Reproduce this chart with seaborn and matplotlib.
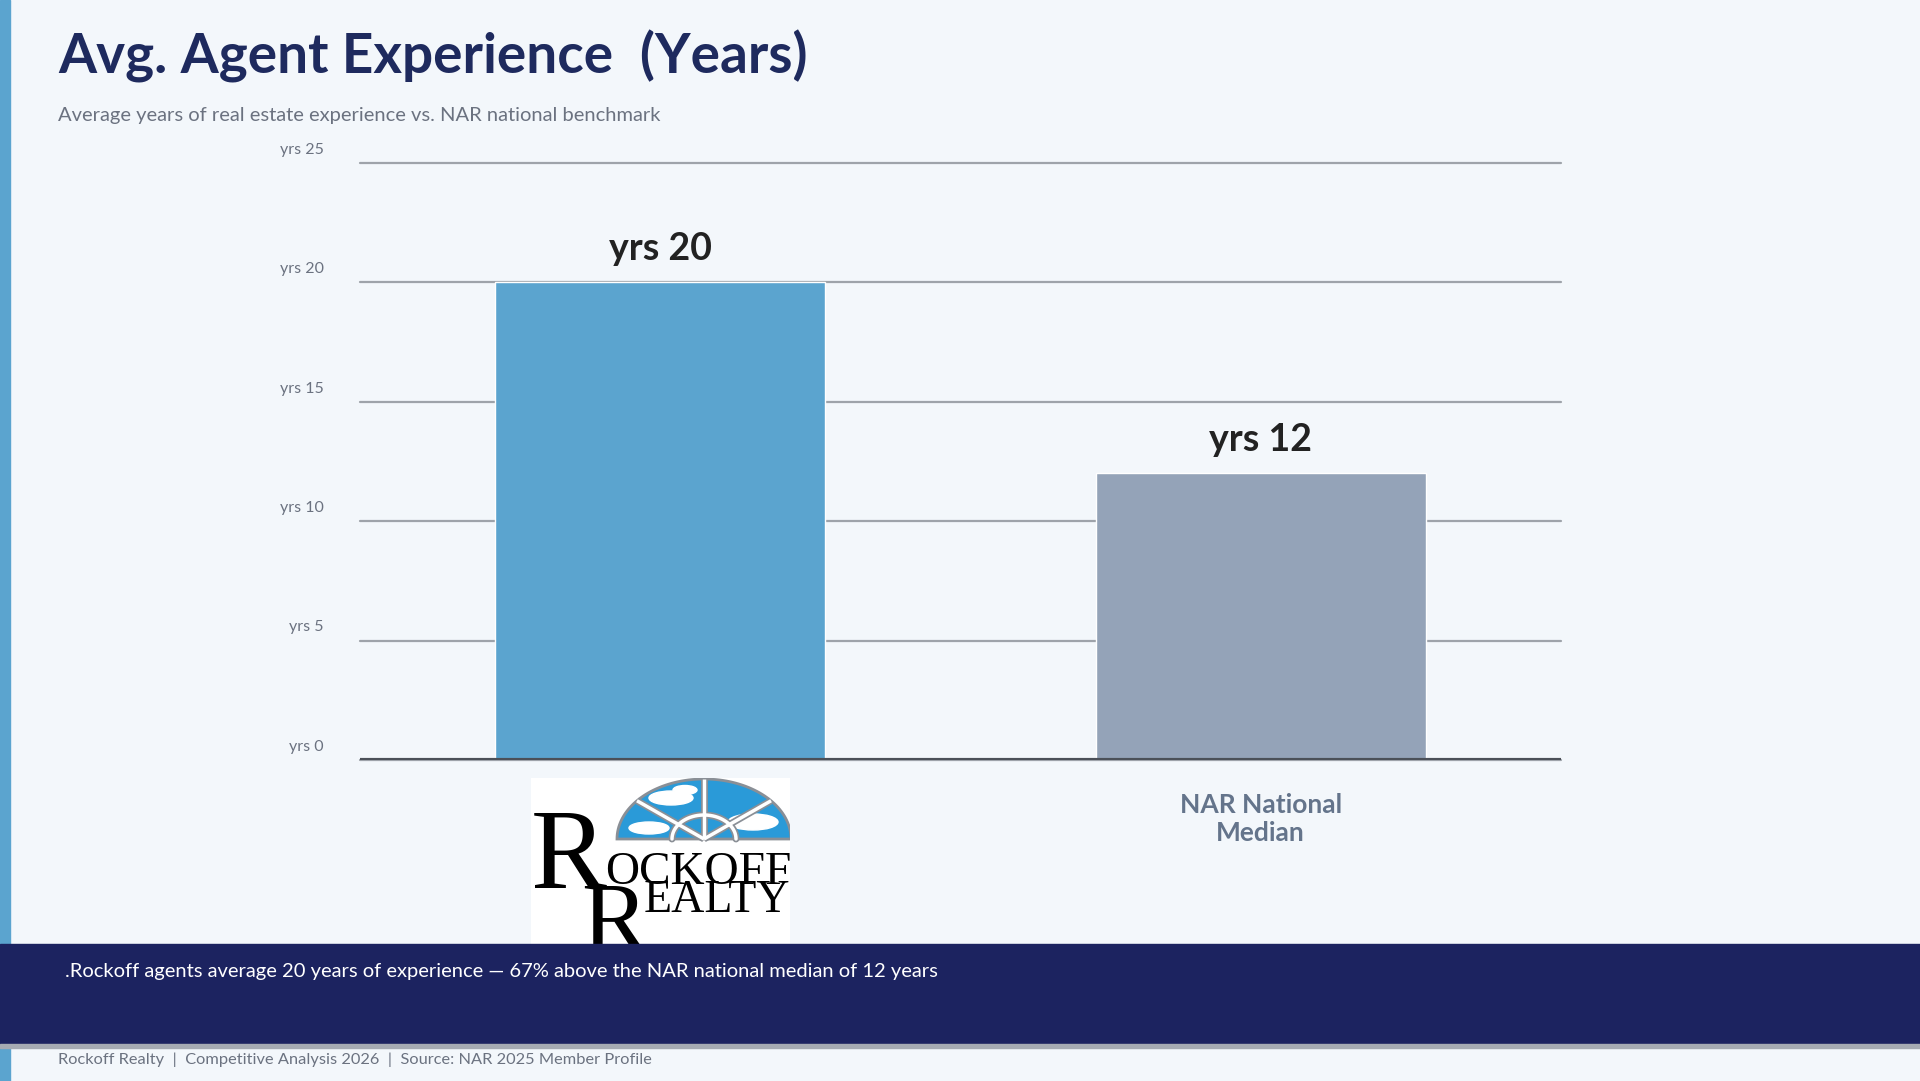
import numpy as np
import pandas as pd
import seaborn as sns
import matplotlib.pyplot as plt
from matplotlib.patches import Rectangle, Polygon, Ellipse

# Data
categories = ["Rockoff Realty", "NAR National Median"]
years = [20, 12]
bar_colors = ["#5ba4cf", "#94a3b8"]
tick_vals = [0, 5, 10, 15, 20, 25]
tick_labels = [f"yrs {v}" for v in tick_vals]
xtick_labels = ["", "NAR National\nMedian"]

title = "Avg. Agent Experience  (Years)"
subtitle = "Average years of real estate experience vs. NAR national benchmark"
takeaway = (".Rockoff agents average 20 years of experience \u2014 67% above the "
            "NAR national median of 12 years")
footer = "Rockoff Realty  |  Competitive Analysis 2026  |  Source: NAR 2025 Member Profile"

df = pd.DataFrame({"source": categories, "years": years})

sns.set_theme(style="white")
plt.rcParams["font.family"] = ["Lato", "DejaVu Sans"]

W, H = 1920, 1081
BG = "#f3f7fb"
NAVY = "#1e2a5e"

fig = plt.figure(figsize=(W / 100, H / 100), dpi=100, facecolor=BG)


def fx(x):
    return x / W


def fy(y):
    return 1 - y / H


# left accent bar
fig.patches.append(Rectangle((0, 0), fx(10), 1, transform=fig.transFigure,
                             color="#5ba4cf", zorder=0))

fig.text(fx(58), fy(56), title, fontsize=39.5, fontweight="bold", color=NAVY,
         va="center", ha="left")
fig.text(fx(58), fy(115), subtitle, fontsize=14.5, color="#6b7280",
         va="center", ha="left")

# chart
ax = fig.add_axes([fx(360), fy(760), (1561 - 360) / W, (760 - 163) / H])
ax.set_facecolor(BG)
sns.barplot(data=df, x="source", y="years", hue="source", palette=bar_colors,
            width=0.55, saturation=1, legend=False, ax=ax, zorder=2)
ax.set_xlim(-0.5, 1.5)
ax.set_ylim(0, 25)
ax.set_yticks(tick_vals)
ax.set_yticklabels([])
# y labels sit a little above their gridlines, as in the reference
for v, lab in zip(tick_vals, tick_labels):
    ax.annotate(lab, xy=(0, v), xycoords=("axes fraction", "data"),
                xytext=(-26, 9.5), textcoords="offset points", ha="right",
                va="center", fontsize=11.5, color="#6b7280",
                annotation_clip=False)
ax.set_xticks(range(len(categories)))
ax.set_xticklabels(xtick_labels, fontsize=19, fontweight="bold",
                   color="#64748b", linespacing=1.2)
ax.tick_params(axis="both", length=0)
ax.tick_params(axis="x", pad=24)
ax.set_xlabel("")
ax.set_ylabel("")
for s in ax.spines.values():
    s.set_visible(False)
ax.set_axisbelow(True)
ax.yaxis.grid(True, color="#9ea3aa", lw=1.6)
for gl in ax.get_ygridlines():
    gl.set_clip_on(False)
ax.axhline(0, color="#4b5058", lw=3, zorder=3)

for p in ax.patches:
    h = p.get_height()
    ax.annotate(f"yrs {h:.0f}", (p.get_x() + p.get_width() / 2, h),
                xytext=(0, 24), textcoords="offset points", ha="center",
                va="center", fontsize=27, fontweight="bold", color="#222222")

# logo in place of the first category label
lg = fig.add_axes([fx(531), fy(944), (790 - 531) / W, (944 - 778) / H])
lg.set_xlim(0, 259)
lg.set_ylim(166, 0)
lg.set_facecolor("white")
lg.set_xticks([])
lg.set_yticks([])
for s in lg.spines.values():
    s.set_visible(False)
cx, cy, rx, ry = 173, 61, 87, 60
t = np.linspace(0, np.pi, 80)
dome = np.column_stack([cx + rx * np.cos(t), cy - ry * np.sin(t)])
lg.add_patch(Polygon(dome, closed=True, facecolor="#2a9ad8",
                     edgecolor="#8a8f96", lw=2))
for e in [(140, 20, 44, 14), (222, 44, 50, 16), (118, 50, 40, 12), (154, 12, 24, 9)]:
    lg.add_patch(Ellipse((e[0], e[1]), e[2], e[3], color="white", zorder=3))
for ang in [np.pi / 2, np.pi * 0.22, np.pi * 0.78]:
    x2, y2 = cx + rx * np.cos(ang), cy - ry * np.sin(ang)
    lg.plot([cx, x2], [cy, y2], color="#8a8f96", lw=5, zorder=4,
            solid_capstyle="butt")
    lg.plot([cx, x2], [cy, y2], color="white", lw=2.5, zorder=5,
            solid_capstyle="butt")
ti = np.linspace(0, np.pi, 40)
lg.plot(cx + 32 * np.cos(ti), cy - 24 * np.sin(ti), color="#8a8f96", lw=5, zorder=4)
lg.plot(cx + 32 * np.cos(ti), cy - 24 * np.sin(ti), color="white", lw=2.5, zorder=5)
serif = ["Liberation Serif", "DejaVu Serif"]
lg.text(0, 110, "R", fontsize=82, family=serif, color="black", va="baseline",
        ha="left", zorder=6)
lg.text(74, 106, "OCKOFF", fontsize=34, family=serif, color="black",
        va="baseline", ha="left", zorder=6)
lg.text(50, 172, "R", fontsize=72, family=serif, color="black", va="baseline",
        ha="left", zorder=6, clip_on=True)
lg.text(113, 134, "EALTY", fontsize=33, family=serif, color="black",
        va="baseline", ha="left", zorder=6)

# takeaway banner
fig.patches.append(Rectangle((0, fy(1044)), 1, (1044 - 944) / H,
                             transform=fig.transFigure, color="#1c2360", zorder=5))
fig.patches.append(Rectangle((0, fy(1048)), 1, 4 / H, transform=fig.transFigure,
                             color="#a6abb3", zorder=5))
fig.text(fx(65), fy(971), takeaway, fontsize=14.5, color="white", va="center",
         ha="left", zorder=6)
fig.text(fx(58), fy(1060), footer, fontsize=11.8, color="#6b7280", va="center",
         ha="left")

fig.savefig("out.png", dpi=100, facecolor=BG)
plt.close(fig)
